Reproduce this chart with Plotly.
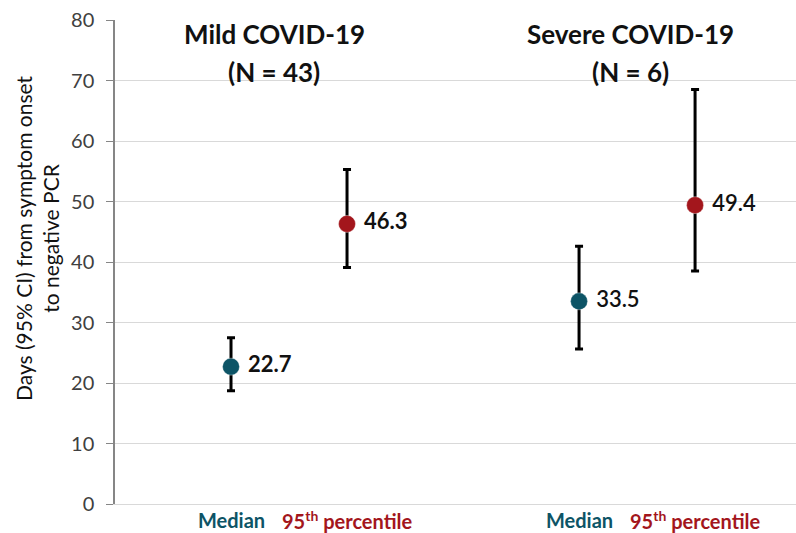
import plotly.graph_objects as go

# ---- data ----
group_names = ["Mild COVID-19", "Severe COVID-19"]
group_n = ["(N = 43)", "(N = 6)"]
stats = ["Median", "95<sup>th</sup> percentile"]
x_pos = [1, 2, 4, 5]
values = [22.7, 46.3, 33.5, 49.4]
ci_low = [18.7, 39.1, 25.6, 38.5]
ci_high = [27.5, 55.3, 42.6, 68.5]
labels = ["22.7", "46.3", "33.5", "49.4"]
y_ticks = [0, 10, 20, 30, 40, 50, 60, 70, 80]
y_title = "Days (95% CI) from symptom onset<br>to negative PCR"

TEAL = "#0d5466"
RED = "#a3161c"
FONT = "Lato"

colors = [TEAL, RED, TEAL, RED]
weights = ["bold", "bold", 600, 600]

fig = go.Figure()
for i in range(4):
    fig.add_trace(go.Scatter(
        x=[x_pos[i]], y=[values[i]],
        mode="markers+text",
        text=[" " + labels[i]],
        textposition="middle right",
        textfont=dict(family=FONT, size=22, color="#111111", weight=weights[i]),
        marker=dict(size=17, color=colors[i], line=dict(color="rgba(255,255,255,0.35)", width=1)),
        error_y=dict(type="data", symmetric=False,
                     array=[ci_high[i] - values[i]],
                     arrayminus=[values[i] - ci_low[i]],
                     color="#000000", thickness=3, width=4),
        showlegend=False, cliponaxis=False,
    ))

fig.update_layout(
    width=796, height=533,
    margin=dict(l=115, r=0, t=20, b=29),
    paper_bgcolor="white", plot_bgcolor="white",
    font=dict(family=FONT, color="#222222"),
    xaxis=dict(range=[0, 5.87], tickvals=x_pos, showticklabels=False, showgrid=False,
               zeroline=False, showline=True, linecolor="#d9d9d9", linewidth=1,
               ticks=""),
    yaxis=dict(range=[0, 80], tickvals=y_ticks, showgrid=True, gridcolor="#d9d9d9",
               gridwidth=1, zeroline=False, showline=True, linecolor="#868686",
               linewidth=1.5, ticks="outside", ticklen=7, tickcolor="#868686",
               tickfont=dict(family=FONT, size=20, color="#404040"),
               ticklabelstandoff=8),
)

plot_left, plot_width = 115, 681
plot_top, plot_bottom = 20, 504


def px_x(p):
    return (p - plot_left) / plot_width


def px_y(p):
    return (plot_bottom - p) / (plot_bottom - plot_top)


# category labels under the axis
for i in range(4):
    fig.add_annotation(x=x_pos[i], y=px_y(520), xref="x", yref="paper",
                       xanchor="center", yanchor="middle", showarrow=False,
                       text=f"<b>{stats[i % 2]}</b>",
                       font=dict(family=FONT, size=20, color=colors[i]))

title_cx = [274, 630]
for g in range(2):
    fig.add_annotation(x=px_x(title_cx[g]), y=px_y(34), xref="paper", yref="paper",
                       yanchor="middle", xanchor="center", showarrow=False,
                       text=f"<b>{group_names[g]}</b>",
                       font=dict(family=FONT, size=26, color="#111111"))
    fig.add_annotation(x=px_x(title_cx[g]), y=px_y(72), xref="paper", yref="paper",
                       yanchor="middle", xanchor="center", showarrow=False,
                       text=f"<b>{group_n[g]}</b>",
                       font=dict(family=FONT, size=26, color="#111111"))

fig.add_annotation(x=px_x(37), y=px_y(238), xref="paper", yref="paper",
                   xanchor="center", yanchor="middle", showarrow=False,
                   textangle=-90, text=y_title,
                   font=dict(family=FONT, size=21, color="#111111"))

fig.write_html("out.html")
